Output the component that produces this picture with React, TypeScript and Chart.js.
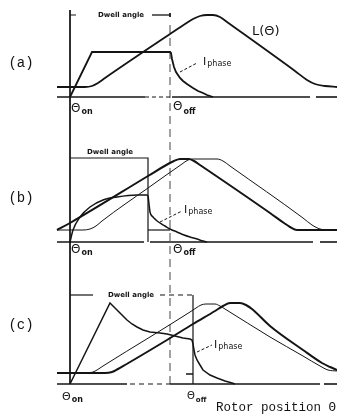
import React, { useEffect, useRef } from "react";
import { Chart, registerables } from "chart.js";

Chart.register(...registerables);

type Pt = [number, number];

// Rotor position θ is measured from θon; each value is a height above that panel's baseline.
const THETA_ON = 0;
const THETA_OFF = 100; // reference θoff (dashed guide)
const THETA_OFF_C = 123; // θoff of case (c)

// ---------- (a) ----------
const inductanceA: Pt[] = [
  [-13, 10], [15, 10], [22, 11], [28, 14], [35, 19], [100, 63], [115, 73], [123, 78],
  [130, 81], [137, 82], [143, 82], [150, 80], [157, 75], [225, 26], [237, 17], [245, 13],
  [255, 11], [267, 10],
];
const currentA: Pt[] = [
  [0, 0], [22, 45], [100, 45], [101, 44], [102, 38], [104, 30], [106, 25], [108, 22],
  [110, 19], [113, 16], [117, 13], [123, 9], [128, 6], [133, 4], [137, 2], [143, 0],
];

// ---------- (b) ----------
const inductanceB1: Pt[] = [
  [-13, 12], [0, 19], [78, 66], [98, 78], [104, 81], [110, 83], [119, 83], [124, 81],
  [130, 77], [200, 29], [214, 19], [220, 15], [227, 12], [267, 12],
];
const inductanceB2: Pt[] = [
  [-13, 12], [13, 12], [20, 13], [26, 16], [32, 21], [78, 54], [112, 78], [118, 82],
  [123, 83], [147, 83], [153, 81], [160, 76], [233, 24], [242, 17], [250, 13], [258, 12],
  [267, 12],
];
const currentB: Pt[] = [
  [0, 0], [3, 12], [10, 25], [20, 35], [33, 42], [47, 45], [67, 47], [77, 47], [78, 46],
  [79, 38], [80, 30], [83, 25], [86, 22], [90, 19], [95, 16], [100, 13], [107, 10],
  [114, 7], [120, 5], [127, 3], [133, 1], [137, 0],
];

// ---------- (c) ----------
const inductanceC1: Pt[] = [
  [-13, 11], [17, 11], [23, 12], [27, 14], [33, 18], [80, 47], [120, 72], [126, 76],
  [131, 79], [136, 80], [145, 80], [150, 78], [155, 75], [200, 47], [233, 28], [250, 18],
  [258, 14], [267, 13],
];
const inductanceC2: Pt[] = [
  [-13, 11], [35, 11], [42, 12], [48, 15], [55, 19], [97, 44], [123, 60], [145, 73],
  [153, 78], [160, 81], [170, 81], [176, 79], [182, 75], [200, 58], [233, 34], [252, 21],
  [260, 17], [267, 14],
];
const currentC: Pt[] = [
  [0, 0], [40, 81], [43, 78], [47, 74], [52, 69], [57, 64], [62, 60], [67, 57], [73, 54],
  [80, 52], [90, 51], [97, 50], [105, 48], [113, 46], [120, 45], [122, 44], [123, 40],
  [124, 34], [125, 29], [127, 24], [130, 19], [133, 14], [140, 9], [147, 6], [155, 3],
  [162, 1], [165, 0],
];

// Dwell levels (heights above baseline) per panel
const DWELL_A = 82;
const DWELL_B = 84;
const DWELL_C = 89;

const INK = "#141414";

function seg(points: Pt[], axis: string, width: number, extra: any = {}) {
  return {
    data: points.map(([x, y]) => ({ x, y })),
    yAxisID: axis,
    borderColor: INK,
    backgroundColor: INK,
    borderWidth: width,
    pointRadius: 0,
    showLine: true,
    fill: false,
    tension: 0,
    ...extra,
  };
}

type Label = {
  text: string;
  sub?: string;
  x: number;
  y: number;
  axis: string;
  font: string;
  subFont?: string;
  subDy?: number;
  align?: CanvasTextAlign;
};

const labels: Label[] = [
  { text: "(a)", x: -49, y: 34, axis: "ya", font: '14px "Liberation Mono"', align: "center" },
  { text: "(b)", x: -49, y: 44, axis: "yb", font: '14px "Liberation Mono"', align: "center" },
  { text: "(c)", x: -49, y: 59, axis: "yc", font: '14px "Liberation Mono"', align: "center" },
  { text: "L(Θ)", x: 182, y: 65, axis: "ya", font: '13px "DejaVu Sans"' },
  { text: "Dwell angle", x: 51, y: DWELL_A, axis: "ya", font: 'bold 7px "DejaVu Sans"', align: "center" },
  { text: "Dwell angle", x: 40, y: DWELL_B + 6, axis: "yb", font: 'bold 7px "DejaVu Sans"', align: "center" },
  { text: "Dwell angle", x: 61, y: DWELL_C, axis: "yc", font: 'bold 7px "DejaVu Sans"', align: "center" },
  { text: "I", sub: "phase", x: 133, y: 35, axis: "ya", font: '11px "DejaVu Sans"', subFont: '8px "DejaVu Sans"', subDy: 2 },
  { text: "I", sub: "phase", x: 114, y: 32, axis: "yb", font: '11px "DejaVu Sans"', subFont: '8px "DejaVu Sans"', subDy: 2 },
  { text: "I", sub: "phase", x: 144, y: 39, axis: "yc", font: '11px "DejaVu Sans"', subFont: '8px "DejaVu Sans"', subDy: 2 },
  { text: "Θ", sub: "on", x: 1, y: -12, axis: "ya", font: '12px "DejaVu Sans"', subFont: 'bold 8px "DejaVu Sans"', subDy: 3 },
  { text: "Θ", sub: "off", x: 103, y: -10, axis: "ya", font: '12px "DejaVu Sans"', subFont: 'bold 8px "DejaVu Sans"', subDy: 5 },
  { text: "Θ", sub: "on", x: 1, y: -8, axis: "yb", font: '12px "DejaVu Sans"', subFont: 'bold 8px "DejaVu Sans"', subDy: 3 },
  { text: "Θ", sub: "off", x: 103, y: -8, axis: "yb", font: '12px "DejaVu Sans"', subFont: 'bold 8px "DejaVu Sans"', subDy: 3 },
  { text: "Θ", sub: "on", x: -8, y: -13, axis: "yc", font: '11px "DejaVu Sans"', subFont: 'bold 8px "DejaVu Sans"', subDy: 3 },
  { text: "Θ", sub: "off", x: 117, y: -12, axis: "yc", font: '10px "DejaVu Sans"', subFont: 'bold 7px "DejaVu Sans"', subDy: 4 },
  { text: "Rotor position Θ", x: 266, y: -24, axis: "yc", font: '12.5px "Liberation Mono"', align: "right" },
];

const textPlugin = {
  id: "figureText",
  afterDatasetsDraw(chart: any) {
    const ctx = chart.ctx as CanvasRenderingContext2D;
    const xs = chart.scales.x;
    ctx.save();
    ctx.fillStyle = INK;
    ctx.textBaseline = "middle";
    for (const l of labels) {
      const ys = chart.scales[l.axis];
      const px = xs.getPixelForValue(l.x);
      const py = ys.getPixelForValue(l.y);
      ctx.font = l.font;
      const w = ctx.measureText(l.text).width;
      let subW = 0;
      if (l.sub) {
        ctx.font = l.subFont || l.font;
        subW = ctx.measureText(l.sub).width + 1;
      }
      const total = w + subW;
      let left = px;
      if (l.align === "center") left = px - total / 2;
      if (l.align === "right") left = px - total;
      ctx.font = l.font;
      ctx.textAlign = "left";
      ctx.fillText(l.text, left, py);
      if (l.sub) {
        ctx.font = l.subFont || l.font;
        ctx.fillText(l.sub, left + w + 1, py + (l.subDy || 0));
      }
    }
    ctx.restore();
  },
};

export default function App() {
  const ref = useRef<HTMLCanvasElement | null>(null);

  useEffect(() => {
    if (!ref.current) return;
    const monotone = { cubicInterpolationMode: "monotone" };
    const dashed = { borderDash: [8, 5] };
    const datasets: any[] = [
      // guides spanning all panels
      seg([[THETA_ON, 10], [THETA_ON, 384]], "yf", 1),
      seg([[THETA_OFF, 25], [THETA_OFF, 384]], "yf", 0.8, dashed),

      // (a)
      seg([[-13, 0], [75, 0]], "ya", 1.6),
      seg([[75, 0], [100, 0]], "ya", 1.2, { borderDash: [4, 3] }),
      seg([[102, 0], [240, 0]], "ya", 1.6),
      seg([[246, 0], [267, 0]], "ya", 1.6),
      seg(inductanceA, "ya", 1.8, monotone),
      seg(currentA, "ya", 1.8),
      seg([[THETA_ON, DWELL_A], [6, DWELL_A]], "ya", 1),
      seg([[82, DWELL_A], [THETA_OFF, DWELL_A]], "ya", 1.3),
      seg([[THETA_OFF, DWELL_A + 2], [THETA_OFF, DWELL_A - 2]], "ya", 1),
      seg([[110, 25], [127, 34]], "ya", 1, { borderDash: [3, 2] }),

      // (b)
      seg([[-13, 0], [74, 0]], "yb", 1.6),
      seg([[80, 0], [243, 0]], "yb", 1.6),
      seg([[250, 0], [267, 0]], "yb", 1.6),
      seg(inductanceB1, "yb", 2, monotone),
      seg(inductanceB2, "yb", 1, monotone),
      seg(currentB, "yb", 1.5, monotone),
      seg([[THETA_ON, DWELL_B], [78, DWELL_B], [78, 0]], "yb", 1.2),
      seg([[78, 12], [THETA_OFF, 12]], "yb", 1.2),
      seg([[90, 20], [112, 31]], "yb", 1, { borderDash: [3, 2] }),

      // (c)
      seg([[-13, 0], [57, 0]], "yc", 1.6),
      seg([[60, 0], [100, 0]], "yc", 1.2, { borderDash: [5, 4] }),
      seg([[100, 0], [250, 0]], "yc", 1.6),
      seg([[254, 0], [267, 0]], "yc", 1.6),
      seg(inductanceC1, "yc", 1, monotone),
      seg(inductanceC2, "yc", 2, monotone),
      seg(currentC, "yc", 1.5),
      seg([[THETA_ON, DWELL_C], [23, DWELL_C]], "yc", 1.2),
      seg([[90, DWELL_C], [THETA_OFF_C, DWELL_C]], "yc", 1.2, { borderDash: [5, 4] }),
      seg([[THETA_OFF_C, DWELL_C], [THETA_OFF_C, 0]], "yc", 1.2),
      seg([[116, 10], [THETA_OFF_C, 10]], "yc", 1.5),
      seg([[127, 32], [142, 39]], "yc", 1, { borderDash: [3, 2] }),
    ];

    const chart = new Chart(ref.current, {
      type: "scatter",
      data: { datasets },
      options: {
        animation: false,
        responsive: false,
        devicePixelRatio: 1,
        events: [],
        layout: { padding: 0 },
        plugins: { legend: { display: false }, tooltip: { enabled: false } },
        scales: {
          x: { type: "linear", min: -70, max: 267, display: false },
          y: { type: "linear", display: false },
          ya: { type: "linear", min: -323, max: 97, display: false },
          yb: { type: "linear", min: -178, max: 242, display: false },
          yc: { type: "linear", min: -36, max: 384, display: false },
          yf: { type: "linear", min: 0, max: 420, reverse: true, display: false },
        },
      } as any,
      plugins: [textPlugin],
    });
    return () => chart.destroy();
  }, []);

  return (
    <div style={{ position: "fixed", left: 0, top: 0, width: 337, height: 420, background: "#fff" }}>
      <canvas ref={ref} width={337} height={420} style={{ display: "block" }} />
    </div>
  );
}
